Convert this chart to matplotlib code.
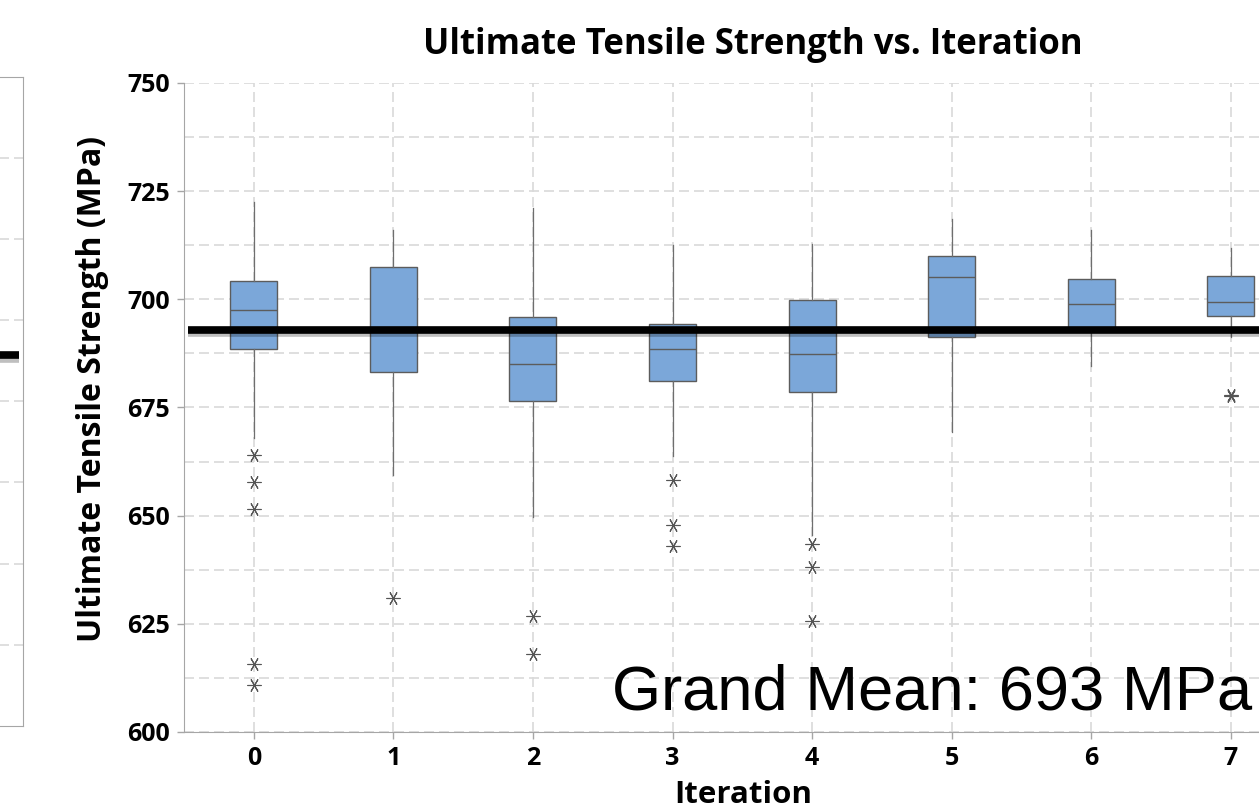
import matplotlib
matplotlib.use('Agg')
import matplotlib.pyplot as plt
import matplotlib.patheffects as pe

# box statistics (MPa)
iterations = [0, 1, 2, 3, 4, 5, 6, 7]
whiskerLow = [668.0, 659.3, 649.8, 663.9, 645.6, 669.3, 684.7, 691.4]
q1 = [688.5, 683.1, 676.5, 681.2, 678.5, 691.4, 693.0, 696.1]
median = [697.5, 693.0, 685.1, 688.5, 687.4, 705.1, 698.9, 699.4]
q3 = [704.3, 707.5, 696.0, 694.3, 699.8, 709.9, 704.7, 705.5]
whiskerHigh = [722.4, 716.1, 721.1, 712.6, 712.8, 718.6, 716.1, 711.9]
outliers = [[664.1, 657.8, 651.6, 615.8, 610.8],
            [631.0],
            [626.7, 618.0],
            [658.2, 647.8, 642.9],
            [643.5, 638.2, 625.7],
            [],
            [],
            [678.0, 677.6]]
grandMean = 693

yTicks = [600, 625, 650, 675, 700, 725, 750]
yGrid = [600 + 12.5 * i for i in range(13)]

# partial neighbouring panel on the left edge
sidePanelGrid = [1, 2, 3, 4, 5, 6, 7]
sidePanelMean = 4.57

W, H = 1259, 808
fig = plt.figure(figsize=(W / 100, H / 100), dpi=100)

boldFont = 'Open Sans'
gridColor = '#d9d9d9'
spineColor = '#a6a6a6'
edgeColor = '#5c5c5c'
dashes = (0, (6, 3))

# --- left partial panel
axL = fig.add_axes([-0.05, 82.4 / H, 0.05 + 23 / W, 648.3 / H])
axL.set_ylim(0, 8)
axL.set_xlim(0, 1)
for s in axL.spines.values():
    s.set_color(spineColor)
axL.set_xticks([])
axL.set_yticks(sidePanelGrid)
axL.tick_params(length=0, labelleft=False)
axL.grid(axis='y', color=gridColor, ls=dashes, lw=1.2)
axL.axhline(sidePanelMean, xmax=(19 + 0.05 * W) / (0.05 * W + 23), color='black', lw=5.5,
            solid_capstyle='butt',
            path_effects=[pe.SimpleLineShadow(offset=(0, -2.5), shadow_color='black', alpha=0.25), pe.Normal()])

# --- main panel
ax = fig.add_axes([184 / W, (H - 732) / H, 1116.6 / W, 649 / H])

stats = []
for i in range(len(iterations)):
    stats.append(dict(med=median[i], q1=q1[i], q3=q3[i], whislo=whiskerLow[i],
                      whishi=whiskerHigh[i], fliers=outliers[i], label=str(iterations[i])))

ax.bxp(stats, positions=iterations, widths=0.337, patch_artist=True, showcaps=False,
       boxprops=dict(facecolor='#7ba7d9', edgecolor=edgeColor, linewidth=1.0),
       medianprops=dict(color=edgeColor, linewidth=1.0),
       whiskerprops=dict(color='#6e6e6e', linewidth=0.9),
       flierprops=dict(marker=(6, 2, 90), markersize=10, markeredgecolor='#555555',
                       markerfacecolor='none', markeredgewidth=0.8, linestyle='none'))

ax.axhline(grandMean, xmin=4 / 1116.6, color='black', lw=5.5, solid_capstyle='butt', zorder=5,
           path_effects=[pe.SimpleLineShadow(offset=(0, -2.5), shadow_color='black', alpha=0.25), pe.Normal()])

ax.set_xlim(-0.5, 7.5)
ax.set_ylim(600, 750)
ax.set_xticks(iterations)
ax.set_xticklabels([str(i) for i in iterations])
ax.set_yticks(yTicks)
ax.set_yticks(yGrid, minor=True)
ax.set_axisbelow(True)
ax.grid(which='both', axis='y', color=gridColor, ls=dashes, lw=1.2)
ax.grid(which='major', axis='x', color=gridColor, ls=dashes, lw=1.2)

ax.spines['top'].set_visible(False)
ax.spines['right'].set_visible(False)
ax.spines['left'].set_color(spineColor)
ax.spines['bottom'].set_color(spineColor)
ax.tick_params(which='major', length=5, width=1, color=spineColor, pad=5)
ax.tick_params(which='minor', length=0)
for lab in ax.get_xticklabels() + ax.get_yticklabels():
    lab.set_fontfamily(boldFont)
    lab.set_fontweight('bold')
    lab.set_fontsize(18)

ax.set_ylabel('Ultimate Tensile Strength (MPa)', fontfamily=boldFont, fontweight='bold', fontsize=23)
ax.yaxis.set_label_coords((93 - 184) / 1116.6, 0.528)
ax.yaxis.label.set_va('center')

fig.text(753 / W, 1 - 45 / H, 'Ultimate Tensile Strength vs. Iteration', ha='center', va='center',
         fontfamily=boldFont, fontweight='bold', fontsize=25)
fig.text(743 / W, 1 - 795 / H, 'Iteration', ha='center', va='center',
         fontfamily=boldFont, fontweight='bold', fontsize=22.5)

fig.text(612 / W, 1 - 710 / H, 'Grand Mean: %d MPa' % grandMean, ha='left', va='baseline',
         fontfamily='Liberation Sans', fontsize=45.5, color='black', zorder=10)

fig.savefig('out.png', dpi=100)
